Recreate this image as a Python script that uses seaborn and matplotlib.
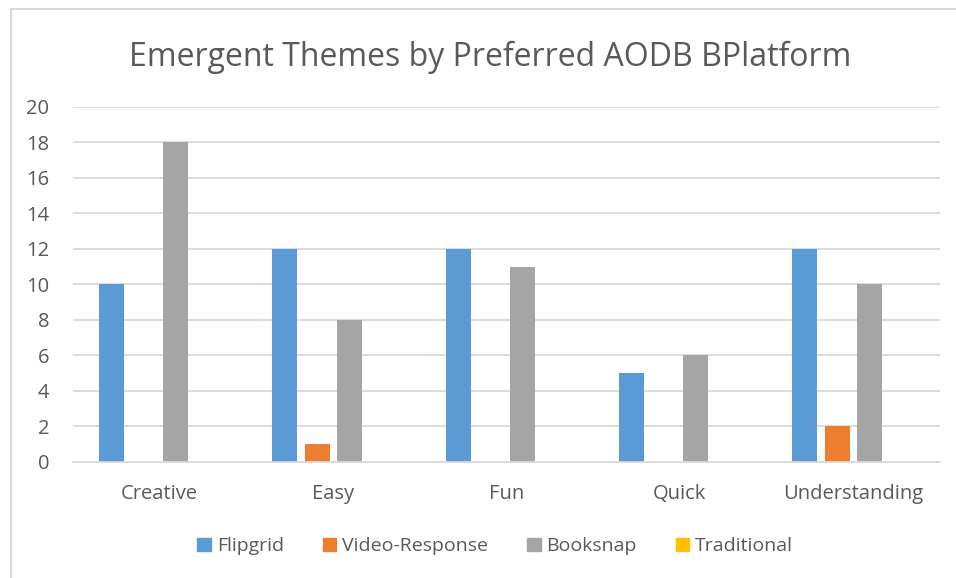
import pandas as pd
import seaborn as sns
import matplotlib.pyplot as plt
from matplotlib.lines import Line2D

# ── Data ────────────────────────────────────────────────────────────────
themes = ["Creative", "Easy", "Fun", "Quick", "Understanding"]
platforms = ["Flipgrid", "Video-Response", "Booksnap", "Traditional"]
flipgrid = [10, 12, 12, 5, 12]
video_response = [0, 1, 0, 0, 2]
booksnap = [18, 8, 11, 6, 10]
traditional = [0, 0, 0, 0, 0]
colors = ["#5b9bd5", "#ed7d31", "#a5a5a5", "#ffc000"]

df = pd.DataFrame({
    "Theme": themes * 4,
    "Platform": [p for p in platforms for _ in themes],
    "Count": flipgrid + video_response + booksnap + traditional,
})

sns.set_theme(style="white")
plt.rcParams["font.family"] = ["Open Sans", "DejaVu Sans"]
text_color = "#595959"
grid_color = "#d9d9d9"

fig = plt.figure(figsize=(9.56, 5.78), dpi=100)
ax = fig.add_axes([0.0764, 0.2007, 0.9066, 0.6143])

sns.barplot(data=df, x="Theme", y="Count", hue="Platform",
            hue_order=platforms, palette=colors, width=0.74, gap=0.22,
            saturation=1, linewidth=0, legend=False, ax=ax)

ax.set_ylim(0, 20)
ax.set_xlim(-0.5, len(themes) - 0.5)
ax.set_yticks(range(0, 21, 2))
ax.yaxis.grid(True, color=grid_color, linewidth=1.3)
ax.set_axisbelow(True)
for side in ["top", "right", "left"]:
    ax.spines[side].set_visible(False)
ax.spines["bottom"].set_color(grid_color)
ax.spines["bottom"].set_linewidth(1.3)
ax.tick_params(axis="both", length=0, labelsize=14.5, colors=text_color)
ax.tick_params(axis="y", pad=17)
ax.tick_params(axis="x", pad=16)
ax.set_xlabel("")
ax.set_ylabel("")

fig.suptitle("Emergent Themes by Preferred AODB BPlatform", x=0.513, y=0.93,
             fontsize=23, color=text_color)

handles = [plt.Rectangle((0, 0), 1, 1, color=c) for c in colors]
fig.legend(handles, platforms, loc="center", bbox_to_anchor=(0.518, 0.055),
           ncol=4, frameon=False, fontsize=14, labelcolor=text_color,
           handlelength=0.7, handleheight=0.7, handletextpad=0.3,
           columnspacing=2.0)

# chart-area border (left and top visible in the reference)
fig.add_artist(Line2D([0.0115, 0.0115], [0, 0.985], color=grid_color, linewidth=1.5))
fig.add_artist(Line2D([0.0115, 1.0], [0.985, 0.985], color=grid_color, linewidth=1.5))

fig.savefig("out.png", dpi=100)
